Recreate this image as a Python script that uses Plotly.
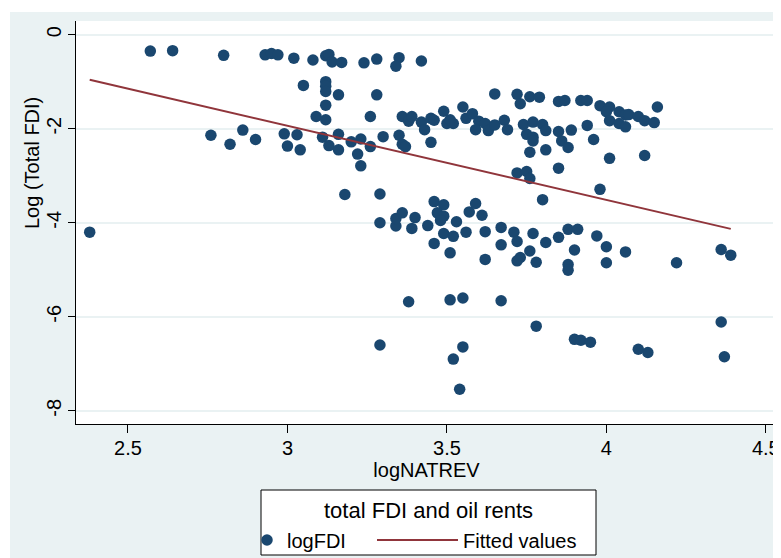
import plotly.graph_objects as go

# logNATREV (x) and logFDI (y)
log_natrev = [
    2.57, 2.64, 2.80, 2.93, 2.95, 2.97, 3.02, 3.08, 3.12, 3.13, 3.14, 3.17, 3.24, 3.28, 3.35, 3.34, 3.42,
    3.05, 3.12, 3.12, 3.12, 3.16, 3.28, 3.12, 3.09, 3.12, 3.26, 3.65,
    2.76, 2.82, 2.86, 2.90, 2.99, 3.03, 3.00, 3.04, 3.11, 3.13, 3.16, 3.16, 3.20, 3.23, 3.26, 3.22, 3.23,
    3.30, 3.35, 3.36, 3.37, 3.45,
    3.36, 3.38, 3.39, 3.42, 3.43, 3.45, 3.46, 3.49, 3.50, 3.52, 3.51, 3.55, 3.56, 3.58, 3.60, 3.59, 3.62,
    3.63, 3.65, 3.68, 3.69, 3.72, 3.73, 3.76, 3.79,
    3.74, 3.77, 3.80, 3.81, 3.75, 3.77, 3.77, 3.85, 3.89, 3.86, 3.88, 3.96, 3.76, 3.81, 4.01, 4.12, 3.85,
    3.72, 3.75, 3.76, 3.98, 3.80,
    3.85, 3.87, 3.92, 3.94, 3.98, 4.01, 4.00, 4.04, 4.06, 4.07, 4.10, 4.12, 4.15, 4.16, 4.01, 4.04, 4.06, 3.94,
    3.18, 3.29, 3.29, 3.34, 3.34, 3.36, 3.39, 3.40, 3.44, 3.46, 3.49, 3.47, 3.49, 3.48, 3.46, 3.49, 3.52,
    3.51, 3.53, 3.56, 3.57, 3.59, 3.61, 3.62, 3.62, 3.67, 3.67, 3.71, 3.72, 3.76, 3.73, 3.72, 3.77, 3.78,
    3.81, 3.85, 3.88, 3.91, 3.90, 3.88, 3.88, 3.97, 4.00, 4.00, 4.06, 4.22, 4.36, 4.39, 2.38,
    3.38, 3.51, 3.55, 3.67, 3.78, 3.29, 3.55, 3.52, 3.54, 3.90, 3.92, 3.95, 4.10, 4.13, 4.36, 4.37,
]
log_fdi = [
    -0.35, -0.34, -0.44, -0.43, -0.40, -0.43, -0.50, -0.54, -0.45, -0.42, -0.58, -0.59, -0.60, -0.52, -0.49, -0.67, -0.56,
    -1.08, -1.00, -1.10, -1.21, -1.28, -1.28, -1.50, -1.74, -1.81, -1.74, -1.26,
    -2.14, -2.33, -2.03, -2.23, -2.11, -2.13, -2.37, -2.45, -2.18, -2.36, -2.45, -2.12, -2.28, -2.22, -2.38, -2.54, -2.79,
    -2.17, -2.14, -2.33, -2.38, -2.29,
    -1.74, -1.84, -1.74, -1.86, -2.02, -1.78, -1.82, -1.63, -1.89, -1.89, -1.81, -1.54, -1.78, -1.68, -1.84, -2.02, -1.89,
    -2.04, -1.92, -1.82, -2.02, -1.27, -1.47, -1.32, -1.33,
    -1.91, -1.86, -1.91, -2.04, -2.12, -2.18, -2.26, -2.06, -2.03, -2.26, -2.40, -2.23, -2.50, -2.45, -2.63, -2.57, -2.84,
    -2.94, -2.91, -3.06, -3.29, -3.51,
    -1.42, -1.40, -1.40, -1.40, -1.51, -1.54, -1.64, -1.64, -1.71, -1.70, -1.74, -1.83, -1.87, -1.54, -1.83, -1.89, -1.96, -1.93,
    -3.40, -3.39, -4.00, -4.07, -3.91, -3.79, -4.12, -3.89, -4.06, -3.55, -3.62, -3.79, -3.86, -3.95, -4.44, -4.23, -4.29,
    -4.64, -3.98, -4.20, -3.77, -3.59, -3.84, -4.19, -4.78, -4.47, -4.10, -4.20, -4.40, -4.60, -4.74, -4.81, -4.23, -4.84,
    -4.42, -4.31, -4.14, -4.14, -4.58, -4.89, -5.01, -4.28, -4.51, -4.85, -4.62, -4.85, -4.57, -4.69, -4.20,
    -5.68, -5.64, -5.60, -5.66, -6.20, -6.60, -6.64, -6.90, -7.54, -6.48, -6.50, -6.54, -6.69, -6.76, -6.11, -6.85,
]

# fitted regression line end points
fit_x = [2.38, 4.39]
fit_y = [-0.96, -4.13]

x_ticks = [2.5, 3, 3.5, 4, 4.5]
x_tick_text = ["2.5", "3", "3.5", "4", "4.5"]
y_ticks = [0, -2, -4, -6, -8]
y_tick_text = ["0", "-2", "-4", "-6", "-8"]

legend_title = "total FDI and oil rents"
y_title = "Log (Total FDI)"
x_title = "logNATREV"

NAVY = "#1a476f"
MAROON = "#90353b"
BG = "#eaf2f3"
FONT = "Liberation Sans, Arial, sans-serif"
FS = 20

# the page body adds an 8px offset; the figure fills the rest of the window
OFF = 8
W, H = 781 - OFF, 558 - OFF
L, R, T, B = 76 - OFF, 4, 21 - OFF, 134
pw, ph = W - L - R, H - T - B


def px_x(p):
    """screen pixel x -> paper fraction"""
    return (p - OFF - L) / pw


def px_y(p):
    """screen pixel y -> paper fraction"""
    return (H - B - (p - OFF)) / ph


fig = go.Figure()
fig.add_trace(go.Scatter(
    x=log_natrev, y=log_fdi, mode="markers", name="logFDI",
    marker=dict(color=NAVY, size=11.5, line=dict(width=0)),
    legend="legend",
))
fig.add_trace(go.Scatter(
    x=fit_x, y=fit_y, mode="lines", name="Fitted values",
    line=dict(color=MAROON, width=2),
    legend="legend2",
))

shapes = [
    # white strips outside the light outer region
    dict(type="rect", xref="paper", yref="paper", x0=px_x(0), x1=px_x(790), y0=px_y(12), y1=px_y(0),
         fillcolor="white", line=dict(width=0), layer="below"),
    dict(type="rect", xref="paper", yref="paper", x0=px_x(0), x1=px_x(10), y0=px_y(570), y1=px_y(0),
         fillcolor="white", line=dict(width=0), layer="below"),
    # legend frame
    dict(type="rect", xref="paper", yref="paper", x0=px_x(261), x1=px_x(596), y0=px_y(555), y1=px_y(490),
         fillcolor="white", line=dict(width=1, color="black"), layer="below"),
]

annotations = [
    dict(text=legend_title, xref="paper", yref="paper", x=px_x(428), y=px_y(511),
         xanchor="center", yanchor="middle", showarrow=False, font=dict(size=22)),
    dict(text=y_title, xref="paper", yref="paper", x=px_x(32), y=px_y(163),
         xanchor="center", yanchor="middle", showarrow=False, textangle=-90, font=dict(size=FS)),
]

fig.update_layout(
    width=W, height=H,
    margin=dict(l=L, r=R, t=T, b=B, pad=0, autoexpand=False),
    paper_bgcolor=BG, plot_bgcolor="white",
    font=dict(family=FONT, size=FS, color="black"),
    shapes=shapes,
    annotations=annotations,
    showlegend=True,
    legend=dict(
        orientation="h", x=px_x(247), xanchor="left", y=px_y(540), yanchor="middle",
        bgcolor="rgba(0,0,0,0)", borderwidth=0, font=dict(size=FS), itemwidth=30,
    ),
    legend2=dict(
        orientation="h", x=px_x(372), xanchor="left", y=px_y(540), yanchor="middle",
        bgcolor="rgba(0,0,0,0)", borderwidth=0, font=dict(size=FS), itemwidth=81,
    ),
    xaxis=dict(
        range=[2.337, 4.535], tickvals=x_ticks, ticktext=x_tick_text, automargin=False,
        showgrid=False, zeroline=False, showline=True, linecolor="black", linewidth=1.3,
        ticks="outside", ticklen=8, tickcolor="black", tickwidth=1.3, ticklabelstandoff=-2,
        title=dict(text=x_title, standoff=2, font=dict(size=FS)),
        tickfont=dict(size=FS),
    ),
    yaxis=dict(
        range=[-8.28, 0.29], tickvals=y_ticks, ticktext=y_tick_text, automargin=False,
        showgrid=True, gridcolor=BG, gridwidth=2, zeroline=False,
        showline=True, linecolor="black", linewidth=1.3,
        ticks="outside", ticklen=7, tickcolor="black", tickwidth=1.3, tickangle=-90,
        ticklabelstandoff=-1,
        tickfont=dict(size=FS),
    ),
)

fig.write_html("out.html")
